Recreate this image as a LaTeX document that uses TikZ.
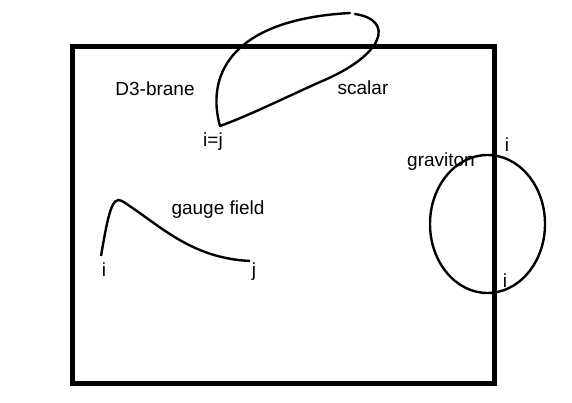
\documentclass[tikz,border=0pt]{standalone}
\usepackage{fontspec}
\setmainfont{Liberation Sans}
\begin{document}
\begin{tikzpicture}[x=1pt, y=-1pt, every node/.style={font=\fontsize{19}{21}\selectfont, inner sep=0pt}]
\useasboundingbox[fill=white](0,0) rectangle (572,403);
\draw[line width=5pt](72,47) rectangle (494,383);
\node (brane) at (155,89){D3-brane};
% scalar
\coordinate (ij) at (220,126);
\draw[line width=2.4pt, line cap=round](ij) .. controls (207,80) and (225,20) .. (350,13);
\draw[line width=2.4pt, line cap=round](355,14) .. controls (395,20) and (385,55) .. (320,82) .. controls (280,100) and (250,115) .. (ij);
\node (scalar) at (363,88){scalar};
\node (lij) at (213,142){i=j};
% gauge field
\coordinate (gi) at (101,256);
\coordinate (gj) at (250,261);
\draw[line width=2.4pt](gi) .. controls (108,215) and (112,195) .. (122,201) .. controls (160,225) and (190,258) .. (gj);
\node (gauge) at (218,210){gauge field};
\node (li) at (104,270){i};
\node (lj) at (254,272){j};
% graviton
\draw[line width=2.4pt](487.5,224) ellipse (57.5 and 69);
\node (grav) at (441,162){graviton};
\node (gt) at (507,145){i};
\node (gb) at (505,281){i};
\end{tikzpicture}
\end{document}
